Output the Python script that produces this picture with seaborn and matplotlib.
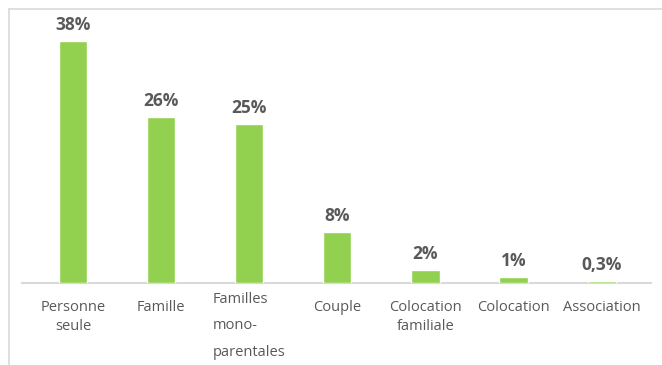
import matplotlib
matplotlib.use("Agg")
import matplotlib.pyplot as plt
from matplotlib.lines import Line2D
import seaborn as sns
import pandas as pd

categories = ["Personne\nseule", "Famille", "Familles\nmono-\nparentales", "Couple",
              "Colocation\nfamiliale", "Colocation", "Association"]
values = [38, 26, 25, 8, 2, 1, 0.3]
value_labels = ["38%", "26%", "25%", "8%", "2%", "1%", "0,3%"]

sns.set_theme(style="white")
plt.rcParams["font.family"] = ["Open Sans", "DejaVu Sans"]

df = pd.DataFrame({"categorie": categories, "part": values})

fig = plt.figure(figsize=(6.62, 3.65), dpi=100)
ax = fig.add_axes([22 / 662, 82 / 365, (651 - 22) / 662, (283 - 28) / 365])

sns.barplot(data=df, x="categorie", y="part", color="#92D050", saturation=1,
            width=0.32, ax=ax, zorder=3)

ax.bar_label(ax.containers[0], labels=value_labels, padding=5,
             fontsize=12.5, fontweight="bold", color="#595959")

ax.set_xlim(-0.58, 6.56)
ax.set_ylim(0, 40)
ax.set_xlabel("")
ax.set_ylabel("")
ax.set_yticks([])
for side in ["top", "right", "left"]:
    ax.spines[side].set_visible(False)
ax.spines["bottom"].set_color("#D9D9D9")
ax.spines["bottom"].set_linewidth(1.5)
ax.tick_params(axis="x", length=0, pad=12, labelsize=10.5, labelcolor="#595959")
for tick in ax.xaxis.get_major_ticks():
    lbl = tick.label1
    lbl.set_linespacing(1.4)
    if lbl.get_text().startswith("Familles"):
        lbl.set_linespacing(2.05)
        lbl.set_multialignment("left")
        lbl.set_y(8 / 255)

# Outer frame lines (top and left)
fig.add_artist(Line2D([9 / 662, 1], [1 - 9 / 365, 1 - 9 / 365],
                      transform=fig.transFigure, color="#D9D9D9", lw=1.2))
fig.add_artist(Line2D([9 / 662, 9 / 662], [0, 1 - 9 / 365],
                      transform=fig.transFigure, color="#D9D9D9", lw=1.2))

fig.savefig("out.png", dpi=100)
